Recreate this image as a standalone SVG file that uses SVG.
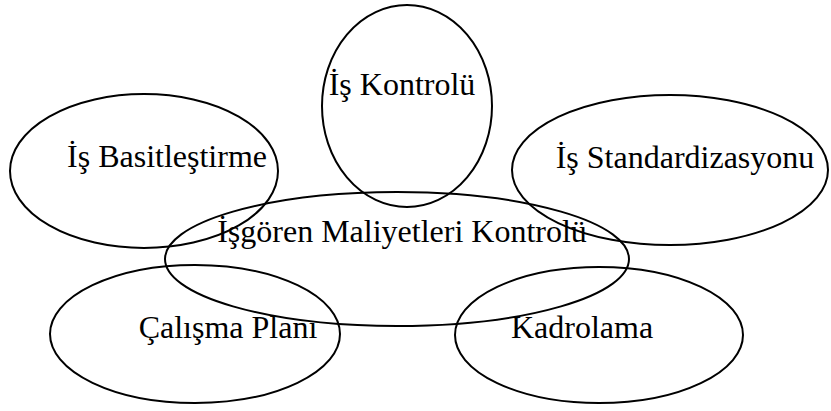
<svg xmlns="http://www.w3.org/2000/svg" width="831" height="411" viewBox="0 0 831 411">
  <style>
    .oval { fill: none; stroke: #000; stroke-width: 2; }
    .label { font-family: "Liberation Serif", "Times New Roman", serif; font-size: 32px; fill: #000; text-anchor: middle; }
  </style>
  <rect width="831" height="411" fill="#fff"/>
  <g id="is-kontrolu">
    <ellipse class="oval" cx="407" cy="106" rx="85" ry="101"/>
    <text class="label" x="402" y="95">İş Kontrolü</text>
  </g>
  <g id="is-basitlestirme">
    <ellipse class="oval" cx="144" cy="171" rx="134" ry="77"/>
    <text class="label" x="167" y="167">İş Basitleştirme</text>
  </g>
  <g id="is-standardizasyonu">
    <ellipse class="oval" cx="670" cy="170" rx="158" ry="75"/>
    <text class="label" x="685" y="168">İş Standardizasyonu</text>
  </g>
  <g id="isgoren-maliyetleri-kontrolu">
    <ellipse class="oval" cx="397" cy="259" rx="232" ry="67"/>
    <text class="label" x="402" y="242">İşgören Maliyetleri Kontrolü</text>
  </g>
  <g id="calisma-plani">
    <ellipse class="oval" cx="195" cy="334" rx="145" ry="69"/>
    <text class="label" x="228" y="338">Çalışma Planı</text>
  </g>
  <g id="kadrolama">
    <ellipse class="oval" cx="599" cy="335" rx="144" ry="68"/>
    <text class="label" x="582" y="338">Kadrolama</text>
  </g>
  <g id="connectors"/>
</svg>
